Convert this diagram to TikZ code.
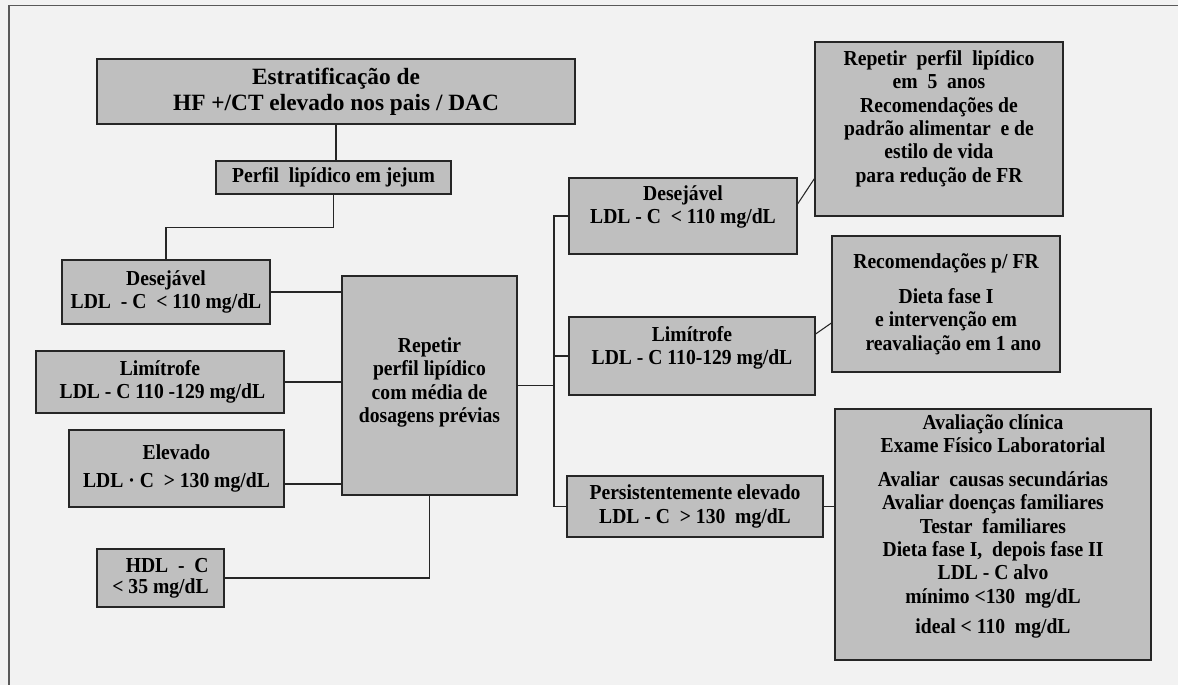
\documentclass[tikz,border=0pt]{standalone}
\usepackage{fontspec}
\setmainfont{Liberation Serif}
\newfontfamily\caixafont{Liberation Serif}[FakeStretch=0.92]
\tikzset{
  caixa/.style={draw=black!85, line width=0.9pt, fill=gray!50, inner sep=2pt, align=center,
    font=\caixafont\bfseries\fontsize{16}{17.5}\selectfont},
  liga/.style={draw=black!85, line width=0.8pt},
}
\begin{document}
\begin{tikzpicture}[x=0.75pt, y=-0.75pt]
\fill[black!5] (0,0) rectangle (1178,685);
\useasboundingbox (0,0) rectangle (1178,685);
\draw[black!65, line width=0.9pt] (9,685) -- (9,5.5) -- (1178,5.5);

\node[caixa, minimum width=358.5pt, minimum height=48.75pt, font=\bfseries\fontsize{17.5}{19.5}\selectfont]
  (estrat) at (336,91.5) {Estratificação de\\HF +/CT elevado nos pais / DAC};
\node[caixa, minimum width=176.25pt, minimum height=24.75pt] (jejum) at (333.5,177.5) {Perfil\ \ lipídico em jejum};

\node[caixa, minimum width=156pt, minimum height=48pt] (desL) at (166,292) {Desejável\\LDL\ \ - C\ \ < 110 mg/dL};
\node[caixa, minimum width=186pt, minimum height=46.5pt] (limL) at (160,382) {Limítrofe\\\ LDL - C 110 -129 mg/dL};
\node[caixa, minimum width=161.25pt, minimum height=57.75pt] (eleL) at (176.5,468.5) {Elevado\\[3pt]LDL · C\ \ > 130 mg/dL};
\node[caixa, minimum width=95.25pt, minimum height=43.5pt, align=right,
  font=\caixafont\bfseries\fontsize{16}{15.5}\selectfont] (hdl) at (160.5,578) {HDL\ \ -\ \ C\\< 35 mg/dL};
\node[caixa, minimum width=131.25pt, minimum height=164.25pt, text depth=8pt] (repL) at (429.5,385.5)
  {Repetir\\perfil lipídico\\com média de\\dosagens prévias};

\node[caixa, minimum width=171pt, minimum height=57pt, text depth=17pt] (desR) at (683,216) {Desejável\\LDL - C\ \ < 110 mg/dL};
\node[caixa, minimum width=184.5pt, minimum height=58.5pt, text depth=15.3pt] (limR) at (692,356) {Limítrofe\\LDL - C 110-129 mg/dL};
\node[caixa, minimum width=192pt, minimum height=45.75pt] (perR) at (695,506.5) {Persistentemente elevado\\LDL - C\ \ > 130\ \ mg/dL};

\node[caixa, minimum width=186pt, minimum height=130.5pt, text depth=19pt] (cincoA) at (939,129)
  {Repetir\ \ perfil\ \ lipídico\\em\ \ 5\ \ anos\\Recomendações de\\padrão alimentar\ \ e de\\estilo de vida\\para redução de FR};
\node[caixa, minimum width=171pt, minimum height=102pt] (recFR) at (946,304)
  {Recomendações p/ FR\\[9pt]Dieta fase I\\e intervenção em\\\ \ \ reavaliação em 1 ano};
\node[caixa, minimum width=237pt, minimum height=188.25pt, text depth=16pt] (aval) at (993,534.5)
  {Avaliação clínica\\Exame Físico Laboratorial\\[8pt]Avaliar\ \ causas secundárias\\Avaliar doenças familiares\\Testar\ \ familiares\\Dieta fase I,\ \ depois fase II\\LDL - C alvo\\mínimo <130\ \ mg/dL\\[5pt]ideal < 110\ \ mg/dL};

\draw[liga] (estrat.south) -- (estrat.south |- jejum.north);
\draw[liga] (jejum.south) -- ++(0,33) -| (desL.north);
\draw[liga] (desL.east) -- (desL.east -| repL.west);
\draw[liga] (limL.east) -- (limL.east -| repL.west);
\draw[liga] (eleL.east) ++(0,15.5) coordinate (eleC) -- (eleC -| repL.west);
\draw[liga] (hdl.east) -| (repL.south);

\coordinate (tronco) at (554,384);
\draw[liga] (repL.east) -- (repL.east -| tronco);
\draw[liga] (desR.west) -| (tronco) |- (perR.west);
\draw[liga] (limR.west) -- (limR.west -| tronco);
\draw[liga] ([yshift=9pt]desR.east) -- ([yshift=28.5pt]cincoA.south west);
\draw[liga] ([yshift=16.5pt]limR.east) -- ([yshift=-14.25pt]recFR.west);
\draw[liga] (perR.east) -- (perR.east -| aval.west);

\end{tikzpicture}
\end{document}
